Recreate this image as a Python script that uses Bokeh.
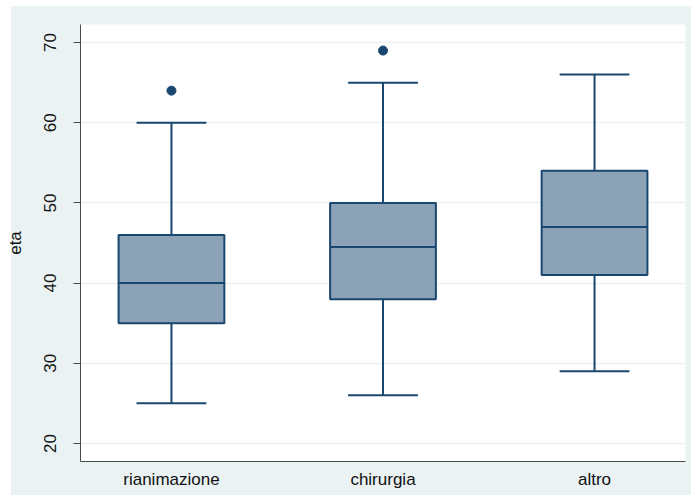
from bokeh.plotting import figure
from bokeh.models import Range1d, FixedTicker, ColumnDataSource
from bokeh.embed import file_html
from bokeh.resources import INLINE

# Age ("eta") distribution by ward
categories = ["rianimazione", "chirurgia", "altro"]
lower_whisker = [25, 26, 29]
q1 = [35, 38, 41]
median = [40, 44.5, 47]
q3 = [46, 50, 54]
upper_whisker = [60, 65, 66]
outlier_group = ["rianimazione", "chirurgia"]
outlier_value = [64, 69]
y_ticks = [20, 30, 40, 50, 60, 70]

NAVY = "#1A476F"
BOX_FILL = "#8CA2B7"
PANEL = "#EAF2F3"
FONT = "Liberation Sans"

xpos = [i + 1 for i in range(len(categories))]
box_w = 0.5
cap_w = 0.33

src = ColumnDataSource(dict(
    x=xpos, lo=lower_whisker, q1=q1, med=median, q3=q3, hi=upper_whisker,
    cap_l=[x - cap_w / 2 for x in xpos], cap_r=[x + cap_w / 2 for x in xpos],
    box_l=[x - box_w / 2 for x in xpos], box_r=[x + box_w / 2 for x in xpos],
))
out_src = ColumnDataSource(dict(
    x=[categories.index(g) + 1 for g in outlier_group], y=outlier_value,
))

# the border is left transparent; the element's own CSS background paints
# a white top/left edge and the light panel colour around the plot frame
panel_css = (
    "linear-gradient(to right, white 11px, transparent 11px), "
    f"linear-gradient(to bottom, white 6px, {PANEL} 6px)"
)

p = figure(
    width=691, height=495,
    x_range=Range1d(0.57, 3.43), y_range=Range1d(17.75, 72.25),
    output_backend="svg", toolbar_location=None,
    min_border_left=80, min_border_right=6, min_border_top=24, min_border_bottom=34,
    border_fill_color=None, background_fill_color="white",
    styles={"background": panel_css},
)
p.outline_line_color = None

# whiskers and caps
p.segment(x0="x", y0="q3", x1="x", y1="hi", source=src, line_color=NAVY, line_width=2)
p.segment(x0="x", y0="q1", x1="x", y1="lo", source=src, line_color=NAVY, line_width=2)
p.segment(x0="cap_l", y0="hi", x1="cap_r", y1="hi", source=src, line_color=NAVY, line_width=2)
p.segment(x0="cap_l", y0="lo", x1="cap_r", y1="lo", source=src, line_color=NAVY, line_width=2)

# boxes and medians
p.quad(left="box_l", right="box_r", bottom="q1", top="q3", source=src,
       fill_color=BOX_FILL, line_color=NAVY, line_width=2)
p.segment(x0="box_l", y0="med", x1="box_r", y1="med", source=src, line_color=NAVY, line_width=2)

# outside values
p.scatter(x="x", y="y", source=out_src, size=9, fill_color=NAVY, line_color=NAVY)

# axes
p.xaxis.ticker = FixedTicker(ticks=xpos)
p.xaxis.major_label_overrides = {x: c for x, c in zip(xpos, categories)}
p.xaxis.major_tick_out = 0
p.xaxis.major_tick_in = 0
p.xaxis.minor_tick_line_color = None
p.xaxis.major_label_standoff = 8

p.yaxis.ticker = FixedTicker(ticks=y_ticks)
p.yaxis.major_label_orientation = "vertical"
p.yaxis.major_tick_out = 7
p.yaxis.major_tick_in = 0
p.yaxis.minor_tick_line_color = None
p.yaxis.major_label_standoff = 17
p.yaxis.axis_label = "eta"
p.yaxis.axis_label_standoff = 17

for ax in (p.xaxis, p.yaxis):
    ax.axis_line_color = "#4a4a4a"
    ax.axis_line_width = 1
    ax.major_tick_line_color = "#4a4a4a"
    ax.major_label_text_font = FONT
    ax.major_label_text_font_size = "17px"
    ax.major_label_text_color = "#111111"
    ax.axis_label_text_font = FONT
    ax.axis_label_text_font_size = "17px"
    ax.axis_label_text_font_style = "normal"
    ax.axis_label_text_color = "#111111"

p.xgrid.grid_line_color = None
p.ygrid.ticker = FixedTicker(ticks=y_ticks)
p.ygrid.grid_line_color = PANEL
p.ygrid.grid_line_width = 1.5

open("out.html", "w").write(file_html(p, INLINE))
